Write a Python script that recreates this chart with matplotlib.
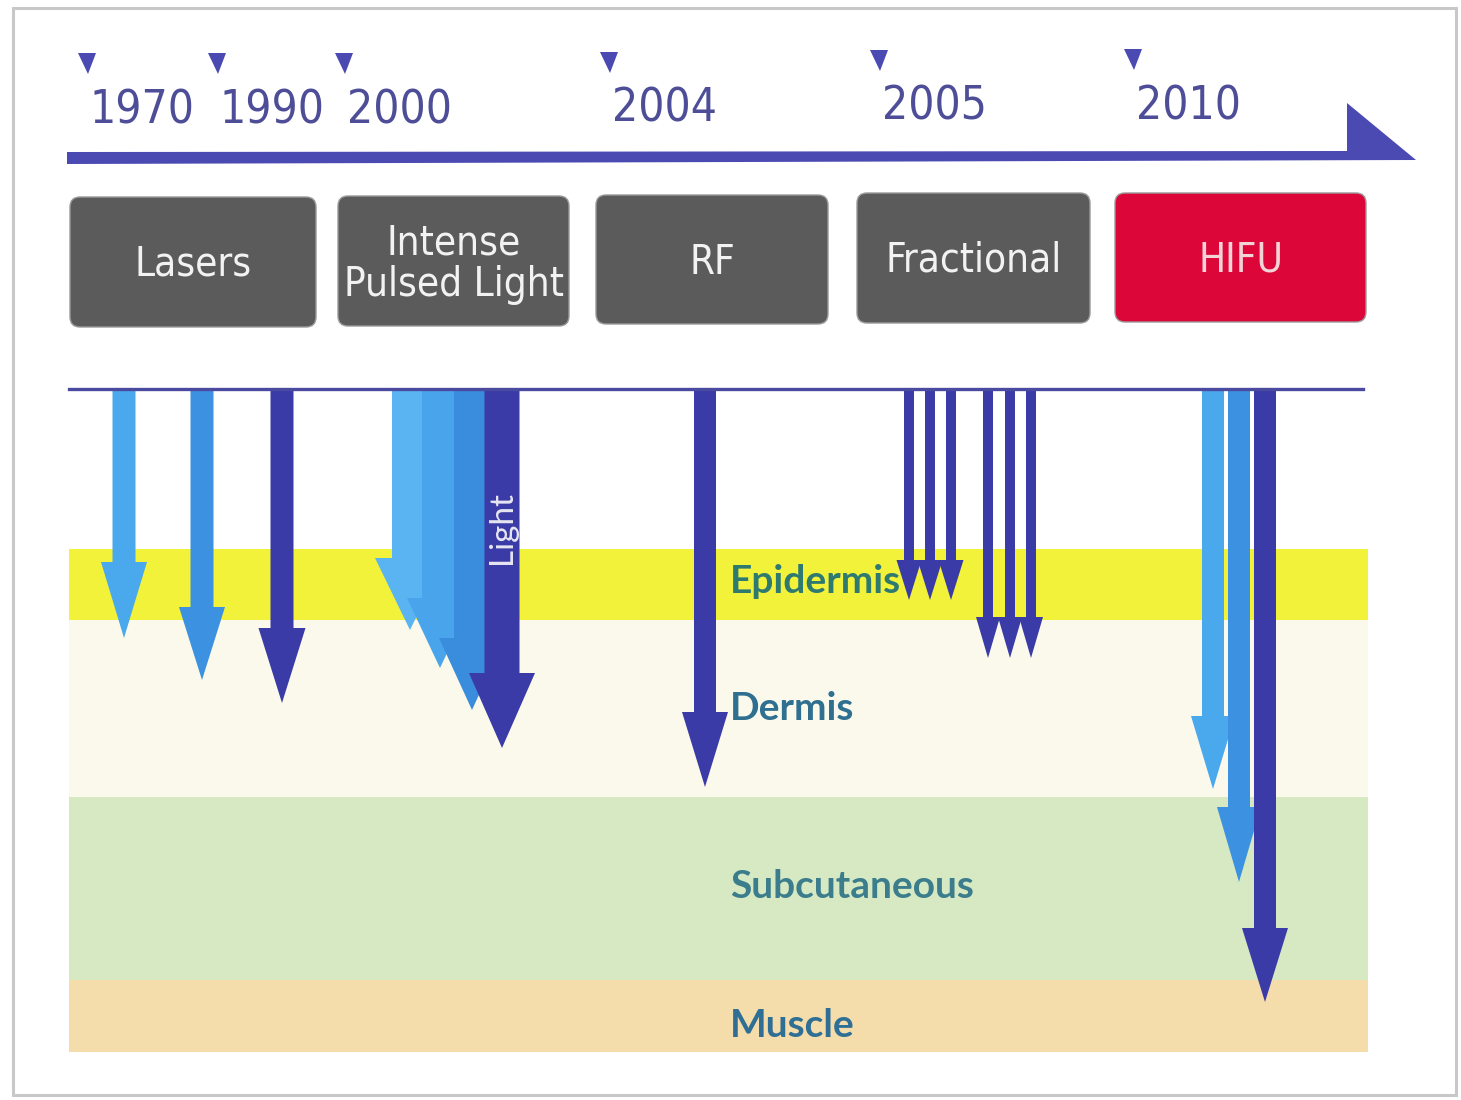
import matplotlib
matplotlib.use("Agg")
import matplotlib.pyplot as plt
from matplotlib import font_manager
from matplotlib.patches import Polygon, Rectangle, FancyBboxPatch

# timeline
years = ["1970", "1990", "2000", "2004", "2005", "2010"]
year_x = [90, 220, 347, 612, 882, 1136]
year_base = [123, 123, 123, 122, 120, 119]

# technology boxes
techs = ["Lasers", "Intense\nPulsed Light", "RF", "Fractional", "HIFU"]
box_left = [70, 338, 596, 857, 1115]
box_right = [316, 569, 828, 1090, 1366]
box_top = [197, 196, 195, 193, 193]
box_bottom = [327, 326, 324, 323, 322]

# skin layers
layers = ["Epidermis", "Dermis", "Subcutaneous", "Muscle"]
layer_top = [549, 620, 797, 980]
layer_bottom = [620, 797, 980, 1052]
layer_colors = ["#f3f23a", "#fbf9eb", "#d6e9c2", "#f4ddab"]
label_colors = ["#2f7a70", "#2f6f90", "#3b7d8c", "#2f6e95"]
label_base = [593, 720, 898, 1037]

# arrows: centre x, tip depth, head length, shaft width, head width, colour
LIGHT, MID, DARK = "#4aa8ec", "#3c92e0", "#3b3ba8"
arrows = [
    # lasers
    (124, 638, 76, 23, 46, LIGHT),
    (202, 680, 73, 23, 46, MID),
    (282, 703, 75, 23, 47, DARK),
    # intense pulsed light
    (410, 630, 72, 36, 70, "#5ab4f2"),
    (440, 668, 70, 36, 66, "#4aa4ec"),
    (472, 710, 72, 36, 66, "#3a8cdc"),
    (502, 748, 75, 35, 66, DARK),
    # RF
    (705, 787, 75, 22, 46, DARK),
    # fractional
    (909, 600, 40, 10, 25, DARK),
    (930, 600, 40, 10, 25, DARK),
    (951, 600, 40, 10, 25, DARK),
    (988, 658, 41, 10, 24, DARK),
    (1010, 658, 41, 10, 24, DARK),
    (1031, 658, 41, 10, 24, DARK),
    # HIFU
    (1213, 789, 73, 22, 44, LIGHT),
    (1239, 882, 75, 22, 44, MID),
    (1265, 1002, 74, 22, 46, DARK),
]

SURFACE = 391
BLUE = "#4a4ab2"

# narrow face if one is around, otherwise smaller text
have_cond = any(f.name == "DejaVu Sans" and f.stretch == "condensed"
                for f in font_manager.fontManager.ttflist)
if have_cond:
    NARROW = dict(family="DejaVu Sans", stretch="condensed")
    year_fs, box_fs = 33, 29
else:
    NARROW = dict(family="Roboto", weight="light")
    year_fs, box_fs = 32, 28


def down_arrow(ax, xc, tip, hl, sw, hw, color):
    neck = tip - hl
    pts = [(xc - sw / 2, SURFACE), (xc + sw / 2, SURFACE), (xc + sw / 2, neck),
           (xc + hw / 2, neck), (xc, tip), (xc - hw / 2, neck), (xc - sw / 2, neck)]
    ax.add_patch(Polygon(pts, closed=True, facecolor=color, edgecolor="none", zorder=3))


fig = plt.figure(figsize=(14.61, 11), dpi=100)
ax = fig.add_axes([0, 0, 1, 1])
ax.set_xlim(0, 1461)
ax.set_ylim(1100, 0)
ax.axis("off")

# outer frame
ax.add_patch(Rectangle((13, 8), 1443, 1087, fill=False, edgecolor="#c8c8c8", linewidth=2.2))

# timeline arrow
ax.add_patch(Polygon([(67, 152), (1347, 151), (1347, 103), (1416, 160), (67, 164)],
                     closed=True, facecolor=BLUE, edgecolor="none"))
for yr, x, yb in zip(years, year_x, year_base):
    ax.add_patch(Polygon([(x - 12, yb - 70), (x + 6, yb - 70), (x - 2, yb - 49)],
                         closed=True, facecolor=BLUE, edgecolor="none"))
    ax.text(x, yb, yr, ha="left", va="baseline", fontsize=year_fs, color="#4e4e98", **NARROW)

# boxes
for i, t in enumerate(techs):
    fc = "#dc0638" if t == "HIFU" else "#5b5b5b"
    tc = "#f3d3d6" if t == "HIFU" else "#f2f2f2"
    w = box_right[i] - box_left[i]
    h = box_bottom[i] - box_top[i]
    ax.add_patch(FancyBboxPatch((box_left[i], box_top[i]), w, h,
                                boxstyle="round,pad=0,rounding_size=10",
                                facecolor=fc, edgecolor="#9a9a9a", linewidth=1))
    ax.text(box_left[i] + w / 2, box_top[i] + h / 2 + 3, t, ha="center", va="center",
            fontsize=box_fs, color=tc, linespacing=1.05, **NARROW)

# skin layers
for i, name in enumerate(layers):
    ax.add_patch(Rectangle((69, layer_top[i]), 1299, layer_bottom[i] - layer_top[i],
                           facecolor=layer_colors[i], edgecolor="none", zorder=1))
    ax.text(730, label_base[i], name, ha="left", va="baseline", fontsize=28,
            fontweight="bold", family=["Lato", "DejaVu Sans"], color=label_colors[i], zorder=2)

# surface line
ax.plot([69, 1363], [SURFACE - 2, SURFACE - 2], color="#4a4aa0", linewidth=2.4, zorder=4)

for xc, tip, hl, sw, hw, c in arrows:
    down_arrow(ax, xc, tip, hl, sw, hw, c)

ax.text(502, 528, "Light", rotation=90, ha="center", va="center", fontsize=24,
        color="#e6e6f2", family=["Lato", "DejaVu Sans"], zorder=5)

fig.savefig("out.png", dpi=100)
